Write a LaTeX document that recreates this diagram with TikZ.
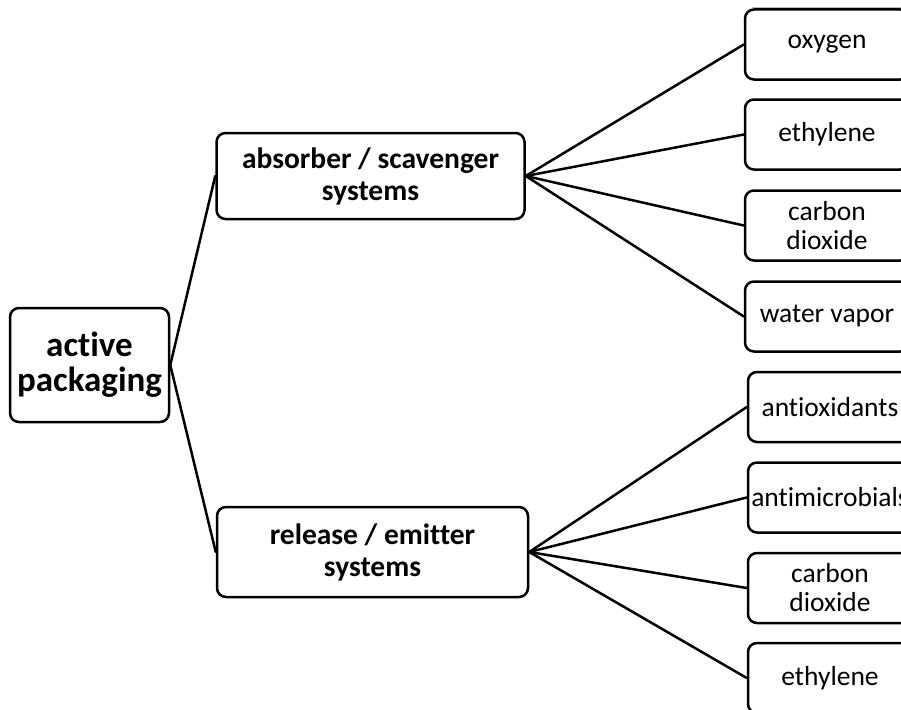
\documentclass[tikz,border=0pt]{standalone}
\usepackage{fontspec}
\setmainfont{Carlito}[Ligatures={NoCommon,NoRequired,NoContextual}]
\begin{document}
\begin{tikzpicture}[x=1pt,y=-1pt,
  box/.style={draw=black, line width=2.5pt, rounded corners=9pt, fill=white, align=center, inner sep=0pt},
  big/.style={box, font=\bfseries\fontsize{35}{35}\selectfont, minimum width=159pt, minimum height=114pt},
  mid/.style={box, font=\bfseries\fontsize{29.5}{32}\selectfont, minimum width=308pt, minimum height=86pt},
  leaf/.style={box, font=\fontsize{27.5}{29}\selectfont, minimum width=164pt, minimum height=70pt},
  link/.style={line width=2.5pt, line cap=round}]
\useasboundingbox (0,0) rectangle (901,709);
\clip (0,0) rectangle (901,709);
\fill[white] (0,0) rectangle (901,709);
\draw[gray!55, line width=0.8pt] (752,7) -- (901,7);

\node[big] (ap) at (89.5,365) {active\\packaging};
\node[mid] (abs) at (370.5,176) {absorber / scavenger\\systems};
\node[mid, minimum width=311pt, minimum height=90pt] (rel) at (372.5,552) {release / emitter\\systems};

\node[leaf] (a1) at (827,44.5) {oxygen};
\node[leaf] (a2) at (827,134.5) {ethylene};
\node[leaf] (a3) at (827,225.5) {carbon\\dioxide};
\node[leaf] (a4) at (827,316.5) {water vapor};

\node[leaf] (r1) at (830,407) {antioxidants};
\node[leaf] (r2) at (830,497.5) {antimicrobials};
\node[leaf] (r3) at (830,588) {carbon\\dioxide};
\node[leaf] (r4) at (830,678) {ethylene};

\draw[link] (ap.east) -- (abs.west);
\draw[link] (ap.east) -- (rel.west);
\foreach \n in {a1,a2,a3,a4} \draw[link] (abs.east) -- (\n.west);
\foreach \n in {r1,r2,r3,r4} \draw[link] (rel.east) -- (\n.west);
\end{tikzpicture}
\end{document}
